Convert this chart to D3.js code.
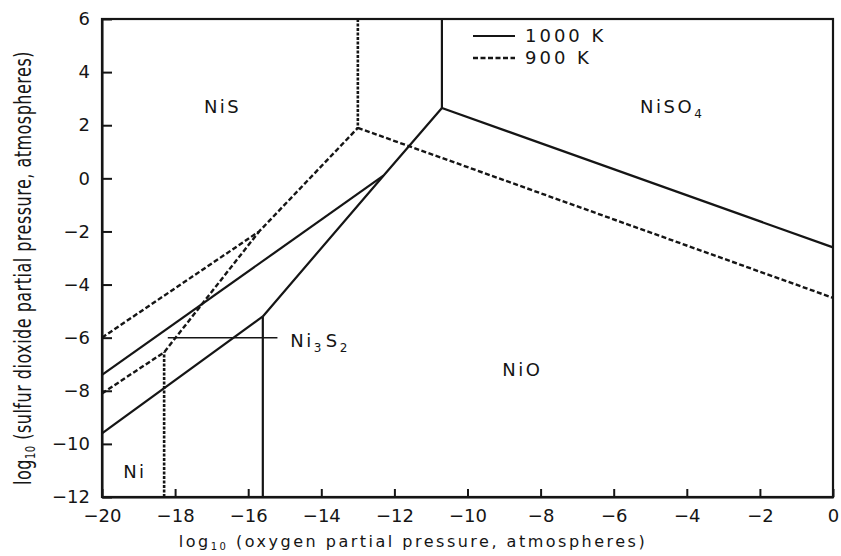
<!DOCTYPE html>
<html>
<head>
<meta charset="utf-8">
<script src="https://cdn.jsdelivr.net/npm/d3@7"></script>
<style>
  body { margin: 0; background: #fff; }
  text { font-family: "DejaVu Sans", "Liberation Sans", Arial, sans-serif; fill: #151515; }
</style>
</head>
<body>
<div id="chart-area"></div>
<script>
// Ni-S-O stability diagram (log pO2 vs log pSO2)

var xTicks = [-20, -18, -16, -14, -12, -10, -8, -6, -4, -2, 0];
var yTicks = [-12, -10, -8, -6, -4, -2, 0, 2, 4, 6];

// 1000 K boundaries (solid)
var hot_nisNiso4 = [[-10.7, 6], [-10.7, 2.65]];
var hot_niso4Nio = [[-10.7, 2.65], [0, -2.6]];
var hot_sulfideNio = [[-15.6, -5.2], [-12.3, 0.1], [-10.7, 2.65]];
var hot_nisNi3s2 = [[-20, -7.4], [-12.3, 0.1]];
var hot_ni3s2Ni = [[-20, -9.6], [-15.6, -5.2]];
var hot_niNio = [[-15.6, -12], [-15.6, -5.2]];

// 900 K boundaries (dashed)
var cold_nisNiso4 = [[-13.0, 6], [-13.0, 1.9]];
var cold_niso4Nio = [[-13.0, 1.9], [0, -4.5]];
var cold_nisNi3s2 = [[-20, -6.0], [-15.7, -2.0], [-13.0, 1.9]];
var cold_ni3s2Ni = [[-20, -8.1], [-18.3, -6.55], [-15.7, -2.0]];
var cold_niNio = [[-18.3, -12], [-18.3, -6.55]];

// pointer for the Ni3S2 label
var ni3s2Pointer = [[-18.2, -6.0], [-15.2, -6.0]];

var phaseLabels = [
    { name: "NiS", x: -16.7, y: 2.7 },
    { name: "NiSO", sub: "4", x: -4.4, y: 2.7 },
    { name: "NiO", x: -8.5, y: -7.2 },
    { name: "Ni", x: -19.1, y: -11.05 }
];

var margin = { left: 102, right: 8, top: 19, bottom: 59 };
var width = 841 - margin.left - margin.right;
var height = 556 - margin.top - margin.bottom;

var svg = d3.select("#chart-area")
    .append("svg")
        .attr("width", 841)
        .attr("height", 556);

var g = svg.append("g")
    .attr("transform", "translate(" + margin.left + "," + margin.top + ")");

var x = d3.scaleLinear().domain([-20, 0]).range([0, width]);
var y = d3.scaleLinear().domain([-12, 6]).range([height, 0]);

var xAxis = g.append("g")
    .attr("transform", "translate(0," + height + ")")
    .call(d3.axisBottom(x).tickValues(xTicks).tickSizeInner(-8).tickSizeOuter(0).tickPadding(12));

var yAxis = g.append("g")
    .call(d3.axisLeft(y).tickValues(yTicks).tickSizeInner(-10).tickSizeOuter(0).tickPadding(12));

[xAxis, yAxis].forEach(function(a) {
    a.attr("font-family", null);
    a.selectAll("path").attr("stroke", "#151515").attr("stroke-width", 2);
    a.selectAll("line").attr("stroke", "#151515").attr("stroke-width", 2);
    a.selectAll("text").attr("font-size", 18).attr("fill", "#151515");
});

// frame
g.append("rect")
    .attr("width", width)
    .attr("height", height)
    .attr("fill", "none")
    .attr("stroke", "#151515")
    .attr("stroke-width", 2.2);

var line = d3.line()
    .x(function(d) { return x(d[0]); })
    .y(function(d) { return y(d[1]); });

var solidLines = [hot_nisNiso4, hot_niso4Nio, hot_sulfideNio, hot_nisNi3s2, hot_ni3s2Ni, hot_niNio];
var dashedLines = [cold_niso4Nio, cold_nisNi3s2, cold_ni3s2Ni];
var dottedLines = [cold_nisNiso4, cold_niNio];

g.selectAll(".hot")
    .data(solidLines)
    .enter()
    .append("path")
        .attr("class", "hot")
        .attr("d", line)
        .attr("fill", "none")
        .attr("stroke", "#151515")
        .attr("stroke-width", 2.2);

g.selectAll(".cold")
    .data(dashedLines)
    .enter()
    .append("path")
        .attr("class", "cold")
        .attr("d", line)
        .attr("fill", "none")
        .attr("stroke", "#151515")
        .attr("stroke-width", 2.4)
        .attr("stroke-dasharray", "5,2.5");

g.selectAll(".coldv")
    .data(dottedLines)
    .enter()
    .append("path")
        .attr("class", "coldv")
        .attr("d", line)
        .attr("fill", "none")
        .attr("stroke", "#151515")
        .attr("stroke-width", 2.6)
        .attr("stroke-dasharray", "3,1.5");

g.append("path")
    .attr("d", line(ni3s2Pointer))
    .attr("fill", "none")
    .attr("stroke", "#151515")
    .attr("stroke-width", 1.5);

// phase labels
phaseLabels.forEach(function(p) {
    var t = g.append("text")
        .attr("x", x(p.x))
        .attr("y", y(p.y))
        .attr("text-anchor", "middle")
        .attr("dy", "0.35em")
        .attr("font-size", 18)
        .attr("letter-spacing", 2.5)
        .text(p.name);
    if (p.sub) {
        t.append("tspan").attr("font-size", 12).attr("dy", 5).text(p.sub);
    }
});

var ni3s2 = g.append("text")
    .attr("x", x(-14.85))
    .attr("y", y(-6.1))
    .attr("dy", "0.35em")
    .attr("font-size", 18)
    .attr("letter-spacing", 2.5);
ni3s2.append("tspan").text("Ni");
ni3s2.append("tspan").attr("font-size", 12).attr("dy", 5).text("3");
ni3s2.append("tspan").attr("dy", -5).attr("dx", 2).text("S");
ni3s2.append("tspan").attr("font-size", 12).attr("dy", 5).text("2");

// legend
var legend = g.append("g").attr("transform", "translate(" + (473 - margin.left) + "," + (36 - margin.top) + ")");
legend.append("line")
    .attr("x1", 0).attr("x2", 42).attr("y1", 0).attr("y2", 0)
    .attr("stroke", "#151515").attr("stroke-width", 1.8);
legend.append("line")
    .attr("x1", 0).attr("x2", 42).attr("y1", 22).attr("y2", 22)
    .attr("stroke", "#151515").attr("stroke-width", 2.4)
    .attr("stroke-dasharray", "5,2.5");
legend.append("text").attr("x", 52).attr("y", 0).attr("dy", "0.36em")
    .attr("font-size", 18).attr("letter-spacing", 3).text("1000 K");
legend.append("text").attr("x", 52).attr("y", 22).attr("dy", "0.36em")
    .attr("font-size", 18).attr("letter-spacing", 3).text("900 K");

// axis titles
var xt = svg.append("text")
    .attr("x", 413)
    .attr("y", 547)
    .attr("text-anchor", "middle")
    .attr("font-size", 16)
    .attr("letter-spacing", 2.5);
xt.append("tspan").text("log");
xt.append("tspan").attr("font-size", 10).attr("dy", 3).text("10");
xt.append("tspan").attr("dy", -3).text(" (oxygen partial pressure, atmospheres)");

var yt = svg.append("text")
    .attr("transform", "translate(31,268) scale(1.4,1) rotate(-90)")
    .attr("text-anchor", "middle")
    .attr("font-size", 16)
    .attr("letter-spacing", 0.5);
yt.append("tspan").text("log");
yt.append("tspan").attr("font-size", 10).attr("dy", 3).text("10");
yt.append("tspan").attr("dy", -3).text(" (sulfur dioxide partial pressure, atmospheres)");
</script>
</body>
</html>
